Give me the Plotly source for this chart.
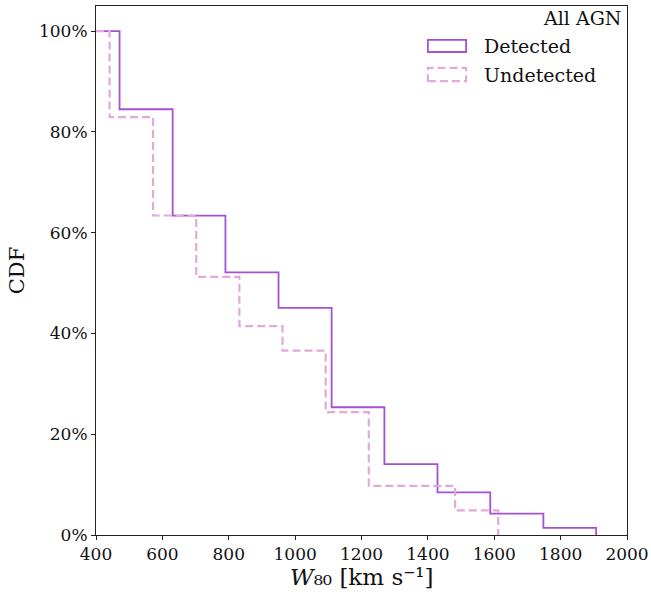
import plotly.graph_objects as go

# Bin edges (km/s) where each cumulative step drops
det_edges = [400, 471, 631, 790, 950, 1110, 1269, 1429, 1588, 1748, 1907]
det_frac = [1.0, 60/71, 45/71, 37/71, 32/71, 18/71, 10/71, 6/71, 3/71, 1/71, 0.0]

und_edges = [400, 441, 572, 702, 832, 962, 1092, 1222, 1482, 1612]
und_frac = [1.0, 34/41, 26/41, 21/41, 17/41, 15/41, 10/41, 4/41, 2/41, 0.0]

y_ticks = [0, 0.2, 0.4, 0.6, 0.8, 1.0]
x_ticks = [400, 600, 800, 1000, 1200, 1400, 1600, 1800, 2000]

DET_COLOR = "#a252d2"
UND_COLOR = "#e2a9da"
FONT = "DejaVu Serif"

fig = go.Figure()
fig.add_trace(go.Scatter(x=det_edges, y=det_frac, mode="lines", line_shape="hv",
                         line=dict(color=DET_COLOR, width=1.8), showlegend=False))
fig.add_trace(go.Scatter(x=und_edges, y=und_frac, mode="lines", line_shape="hv",
                         line=dict(color=UND_COLOR, width=2.2, dash="8px,4px"),
                         showlegend=False))

axis_common = dict(showgrid=False, zeroline=False, showline=True, linecolor="#222",
                   linewidth=1, mirror=True, ticks="outside", ticklen=4,
                   tickcolor="#222", automargin=False,
                   tickfont=dict(family=FONT, size=17, color="#111"))

fig.update_xaxes(range=[400, 2000], tickvals=x_ticks, **axis_common)
fig.update_yaxes(range=[0, 1.05], tickvals=y_ticks, tickformat=".0%",
                 title=dict(text="CDF", font=dict(family=FONT, size=21, color="#111"),
                            standoff=8),
                 **axis_common)

# Legend drawn as outlined boxes with labels
shapes = [
    dict(type="rect", xref="paper", yref="paper", x0=0.625, x1=0.697, y0=0.913, y1=0.936,
         line=dict(color=DET_COLOR, width=1.8)),
    dict(type="rect", xref="paper", yref="paper", x0=0.625, x1=0.697, y0=0.858, y1=0.883,
         line=dict(color=UND_COLOR, width=2.2, dash="8px,4px")),
]
annotations = [
    # x-axis title
    dict(text="<i>W</i>₈₀ [km s⁻¹]", xref="paper", yref="paper",
         x=0.5, y=-0.0794, xanchor="center", yanchor="middle", showarrow=False,
         font=dict(family=FONT, size=23, color="#111")),
    dict(text="All AGN", xref="paper", yref="paper", x=0.993, y=0.977,
         xanchor="right", yanchor="middle", showarrow=False,
         font=dict(family=FONT, size=19, color="#111")),
    dict(text="Detected", xref="paper", yref="paper", x=0.726, y=0.924,
         xanchor="left", yanchor="middle", showarrow=False,
         font=dict(family=FONT, size=19, color="#111")),
    dict(text="Undetected", xref="paper", yref="paper", x=0.726, y=0.870,
         xanchor="left", yanchor="middle", showarrow=False,
         font=dict(family=FONT, size=19, color="#111")),
]

fig.update_layout(width=651, height=592, margin=dict(l=96, r=24, t=6, b=57),
                  plot_bgcolor="white", paper_bgcolor="white",
                  shapes=shapes, annotations=annotations)

fig.write_html("out.html")
